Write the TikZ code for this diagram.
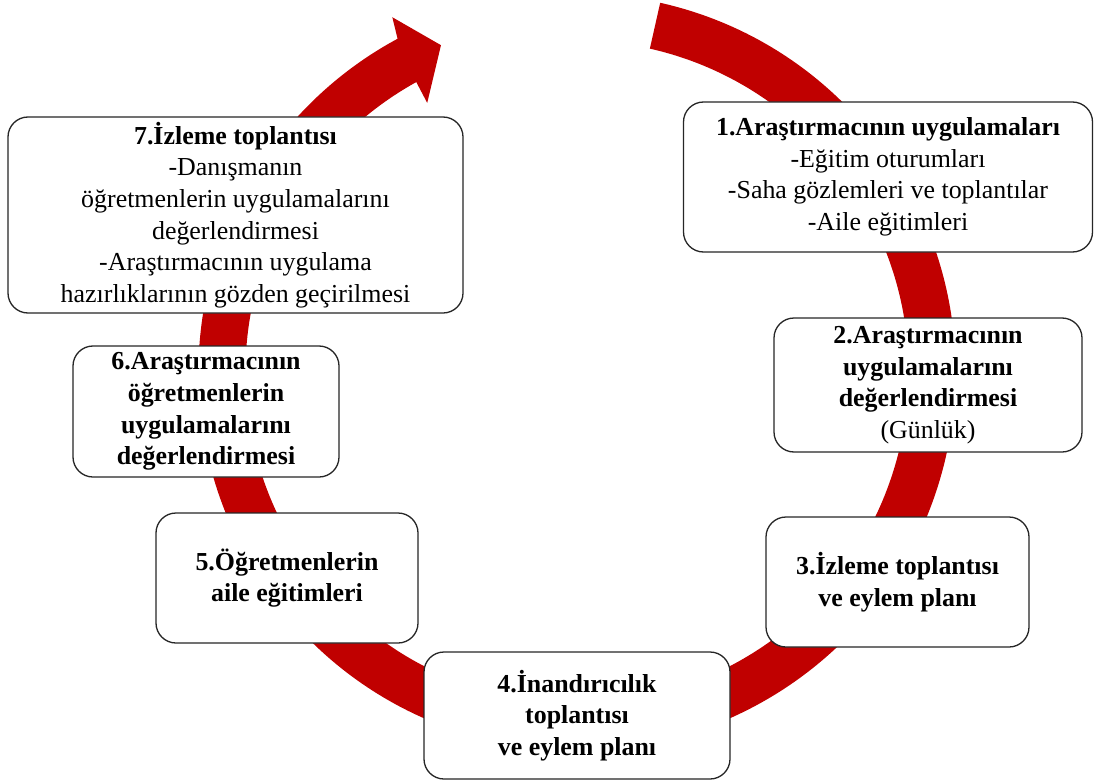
\documentclass[tikz,border=0pt]{standalone}
\usepackage{fontspec}
\setmainfont{Liberation Serif}
\definecolor{cyclered}{RGB}{192,0,0}
\newcommand\stagefont{\fontsize{25.9bp}{31.6bp}\selectfont}
\begin{document}
\begin{tikzpicture}[x=1bp,y=1bp,
  stagebox/.style={draw=black!85, line width=1.3bp, fill=white,
    rounded corners=20bp, align=center, inner sep=0pt, font=\stagefont}]
\useasboundingbox (0,0) rectangle (1094,-784);

% circular red arrow running clockwise behind the stages
\coordinate (hub) at (577,-372);
\begin{scope}[shift={(hub)}]
  \fill[cyclered] (77.3:378.5)
    arc[start angle=77.3, end angle=-241.7, radius=378.5]
    -- (117.5:400) -- (112.6:354) -- (119.1:308) -- (119.0:331.5)
    arc[start angle=-241.0, end angle=77.3, radius=331.5] -- cycle;
\end{scope}

% stages
\node[stagebox, minimum width=409bp, minimum height=150bp] (s1) at (888,-177)
  {\textbf{1.Araştırmacının uygulamaları}\\-Eğitim oturumları\\-Saha gözlemleri ve toplantılar\\-Aile eğitimleri};
\node[stagebox, minimum width=308bp, minimum height=134bp] (s2) at (928,-385)
  {\textbf{2.Araştırmacının}\\\textbf{uygulamalarını}\\\textbf{değerlendirmesi}\\(Günlük)};
\node[stagebox, minimum width=263bp, minimum height=130bp] (s3) at (897.5,-582)
  {\textbf{3.İzleme toplantısı}\\\textbf{ve eylem planı}};
\node[stagebox, minimum width=306bp, minimum height=127bp] (s4) at (577,-715.5)
  {\textbf{4.İnandırıcılık}\\\textbf{toplantısı}\\\textbf{ve eylem planı}};
\node[stagebox, minimum width=262bp, minimum height=130bp] (s5) at (287,-578)
  {\textbf{5.Öğretmenlerin}\\\textbf{aile eğitimleri}};
\node[stagebox, minimum width=266bp, minimum height=131bp] (s6) at (206,-411.5)
  {\textbf{6.Araştırmacının}\\\textbf{öğretmenlerin}\\\textbf{uygulamalarını}\\\textbf{değerlendirmesi}};
\node[stagebox, minimum width=455bp, minimum height=196bp] (s7) at (235.5,-215)
  {\textbf{7.İzleme toplantısı}\\-Danışmanın\\öğretmenlerin uygulamalarını\\değerlendirmesi\\-Araştırmacının uygulama\\hazırlıklarının gözden geçirilmesi};
\end{tikzpicture}
\end{document}
